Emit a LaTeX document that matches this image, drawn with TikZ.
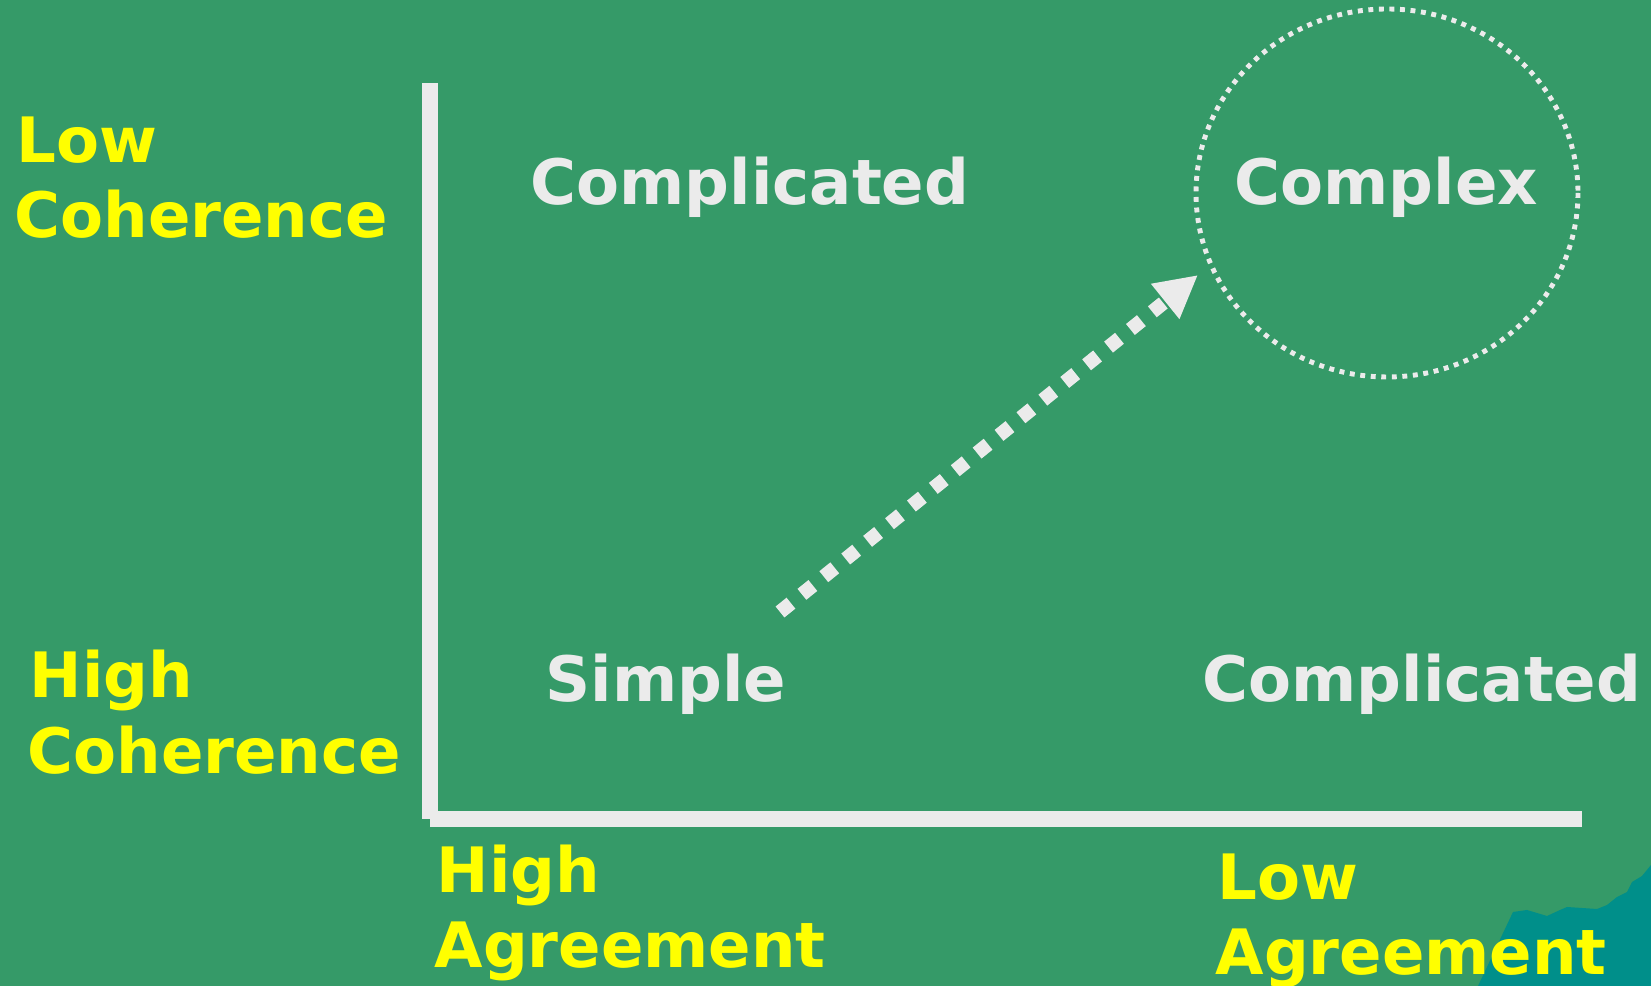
\documentclass[tikz,border=0pt]{standalone}
\usepackage{fontspec}
\setmainfont{DejaVu Sans}
\usetikzlibrary{positioning}
\usetikzlibrary{arrows.meta}
\definecolor{board}{RGB}{53,154,104}
\definecolor{chalk}{RGB}{235,235,235}
\definecolor{marker}{RGB}{255,255,0}
\definecolor{sea}{RGB}{0,143,138}
\tikzset{>={Triangle[length=12pt,width=12pt]}}

\begin{document}
\begin{tikzpicture}[x=0.01cm, y=-0.01cm, quadrant/.style={inner sep=0pt, anchor=base west, text=chalk, font=\bfseries\fontsize{17.8}{22}\selectfont}, axislabel/.style={inner sep=0pt, anchor=base west, text=marker, font=\bfseries\fontsize{17.8}{22}\selectfont}, axis/.style={draw=chalk, line width=4.55pt}, flow/.style={draw=chalk, line width=4pt, dash pattern=on 4pt off 4pt}, ring/.style={draw=chalk, line width=1.4pt, dash pattern=on 1.4pt off 1.6pt}]

    %Background
    \fill[board] (0,0) rectangle (1651,986);
    \useasboundingbox (0,0) rectangle (1651,986);
    \fill[sea] (1478,986) -- (1513,912) -- (1527,910) -- (1547,916) -- (1560,910) -- (1567,907) -- (1597,909) -- (1607,905) -- (1617,897) -- (1627,892) -- (1632,882) -- (1642,876) -- (1651,865) -- (1651,986) -- cycle;

    %Coordinates
    \coordinate (origin) at (430,819);
    \coordinate (ytop) at (430,83);
    \coordinate (xend) at (1582,819);
    \coordinate (start) at (780,612);
    \coordinate (tip) at (1198,275);
    \coordinate (ringcenter) at (1387,193);

    %Nodes
    \node[axislabel](lowcoh) at (16,163){Low};
    \node[axislabel](lowcoh2) at (14,238){Coherence};
    \node[axislabel](highcoh) at (29,698){High};
    \node[axislabel](highcoh2) at (27,774){Coherence};
    \node[axislabel](highagr) at (436,893){High};
    \node[axislabel](highagr2) at (434,968){Agreement};
    \node[axislabel](lowagr) at (1217,900){Low};
    \node[axislabel](lowagr2) at (1215,975){Agreement};
    \node[quadrant](topleft) at (530,205){Complicated};
    \node[quadrant](simple) at (545,702){Simple};
    \node[quadrant](botright) at (1202,702){Complicated};
    \node[quadrant](complex) at (1234,205){Complex};

    %Lines
    \draw[axis] (ytop) -- (origin);
    \draw[axis] (origin) -- (xend);
    \draw[flow, ->] (start) -- (tip);
    \draw[ring] (ringcenter) ellipse [x radius=191, y radius=184];

\end{tikzpicture}
\end{document}
